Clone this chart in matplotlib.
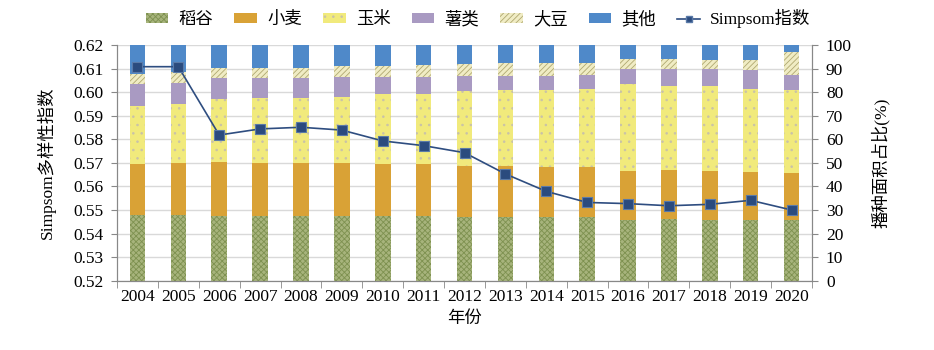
import matplotlib
matplotlib.use("Agg")
import matplotlib.pyplot as plt
from matplotlib.patches import Patch
from matplotlib.lines import Line2D
import numpy as np

years = ["2004", "2005", "2006", "2007", "2008", "2009", "2010", "2011", "2012",
         "2013", "2014", "2015", "2016", "2017", "2018", "2019", "2020"]
rice = [27.9, 27.9, 27.6, 27.6, 27.6, 27.3, 27.3, 27.3, 27.2, 27.2, 26.9, 26.9, 25.7, 26.2, 25.7, 25.7, 25.7]
wheat = [21.5, 21.9, 22.9, 22.5, 22.2, 22.5, 22.1, 22.1, 21.6, 21.5, 21.5, 21.5, 20.8, 20.8, 20.8, 20.4, 20.1]
corn = [24.9, 25.0, 26.6, 27.6, 27.9, 28.1, 29.7, 30.0, 31.7, 32.2, 32.5, 32.9, 37.0, 35.7, 36.0, 35.2, 35.1]
potato = [9.3, 9.2, 8.8, 8.2, 8.2, 8.7, 7.5, 7.2, 6.5, 6.1, 6.1, 6.0, 6.2, 7.0, 7.2, 8.1, 6.4]
soybean = [4.2, 4.5, 4.2, 4.2, 4.5, 4.5, 4.5, 5.1, 4.9, 5.2, 5.2, 4.9, 4.2, 4.2, 3.9, 4.2, 9.7]
other = [12.2, 11.5, 9.9, 9.9, 9.6, 8.9, 8.9, 8.3, 8.1, 7.8, 7.8, 7.8, 6.1, 6.1, 6.4, 6.4, 3.0]
simpson = [0.6108, 0.6108, 0.5818, 0.5844, 0.5851, 0.5839, 0.5793, 0.5773, 0.5743,
           0.5653, 0.5579, 0.5532, 0.5527, 0.5518, 0.5524, 0.5541, 0.5500]

series_names = ["稻谷", "小麦", "玉米", "薯类", "大豆", "其他"]
series_vals = [rice, wheat, corn, potato, soybean, other]
face = ["#a7b47c", "#d9a236", "#f1ea7c", "#a99ac2", "#f0ecc4", "#4f89c9"]
hatchcol = ["#7e9150", "#d9a236", "#c9c2a8", "#a99ac2", "#b0a870", "#4f89c9"]
hatches = ["xxxxxx", None, "..", None, "//////", None]

FONT = ["Liberation Serif", "Noto Sans CJK SC"]
plt.rcParams["font.family"] = FONT
plt.rcParams["font.size"] = 12.5
plt.rcParams["hatch.linewidth"] = 0.6

fig = plt.figure(figsize=(9.34, 3.5), dpi=100)
ax = fig.add_axes([0.1253, 0.198, 0.8694 - 0.1253, 0.8714 - 0.198])

x = np.arange(len(years))
bottom = np.zeros(len(years))
for name, vals, fc, hc, h in zip(series_names, series_vals, face, hatchcol, hatches):
    vals = np.array(vals)
    ax.bar(x, vals, width=0.38, bottom=bottom, color=fc, edgecolor=hc,
           hatch=h, linewidth=0, zorder=2)
    bottom += vals

ax.set_ylim(0, 100)
ax.set_xlim(-0.5, len(years) - 0.5)
ax.set_yticks(np.arange(0, 101, 10))
ax.grid(axis="y", color="#d9d9d9", linewidth=1.0, zorder=0)
ax.set_axisbelow(True)

ax.set_xticks(x)
ax.set_xticklabels(years)
ax.set_xticks(np.arange(-0.5, len(years), 1.0), minor=True)
ax.tick_params(axis="x", which="major", length=0, pad=6)
ax.tick_params(axis="x", which="minor", length=5, color="#888888")
ax.set_xlabel("年份", labelpad=4)

ax2 = ax.twinx()
# percent axis on the right
ax.yaxis.tick_right()
ax.yaxis.set_label_position("right")
ax.set_ylabel("播种面积占比(%)", rotation=90, labelpad=14)
ax.tick_params(axis="y", length=4, color="#888888", pad=6)
# simpson axis on the left
ax2.yaxis.tick_left()
ax2.yaxis.set_label_position("left")
ax2.plot(x, simpson, color="#2e4d80", linewidth=1.2, marker="s", markersize=7.5,
         markerfacecolor="#2b4b7e", markeredgecolor="#5a7aa8", markeredgewidth=0.8, zorder=5)
ax2.set_ylim(0.52, 0.62)
ticks = np.arange(0.52, 0.6201, 0.01)
ax2.set_yticks(ticks)
ax2.set_yticklabels([f"{v:.2f}" for v in ticks])
ax2.set_ylabel("Simpsom多样性指数", labelpad=12)
ax2.tick_params(axis="y", length=4, color="#888888", pad=6)

for a in (ax, ax2):
    a.spines["top"].set_visible(False)
    for s in ["left", "right", "bottom"]:
        a.spines[s].set_color("#888888")

handles = [Patch(facecolor=fc, edgecolor=hc, hatch=h, linewidth=0)
           for fc, hc, h in zip(face, hatchcol, hatches)]
handles.append(Line2D([0], [0], color="#2e4d80", linewidth=1.2, marker="s", markersize=5,
                      markerfacecolor="#2b4b7e", markeredgecolor="#5a7aa8"))
labels = series_names + ["Simpsom指数"]
fig.legend(handles, labels, loc="center", bbox_to_anchor=(0.512, 0.947), ncol=7,
           frameon=False, handlelength=1.3, handleheight=0.45, handletextpad=0.6,
           columnspacing=1.2, borderaxespad=0)

fig.savefig("out.png", dpi=100)
